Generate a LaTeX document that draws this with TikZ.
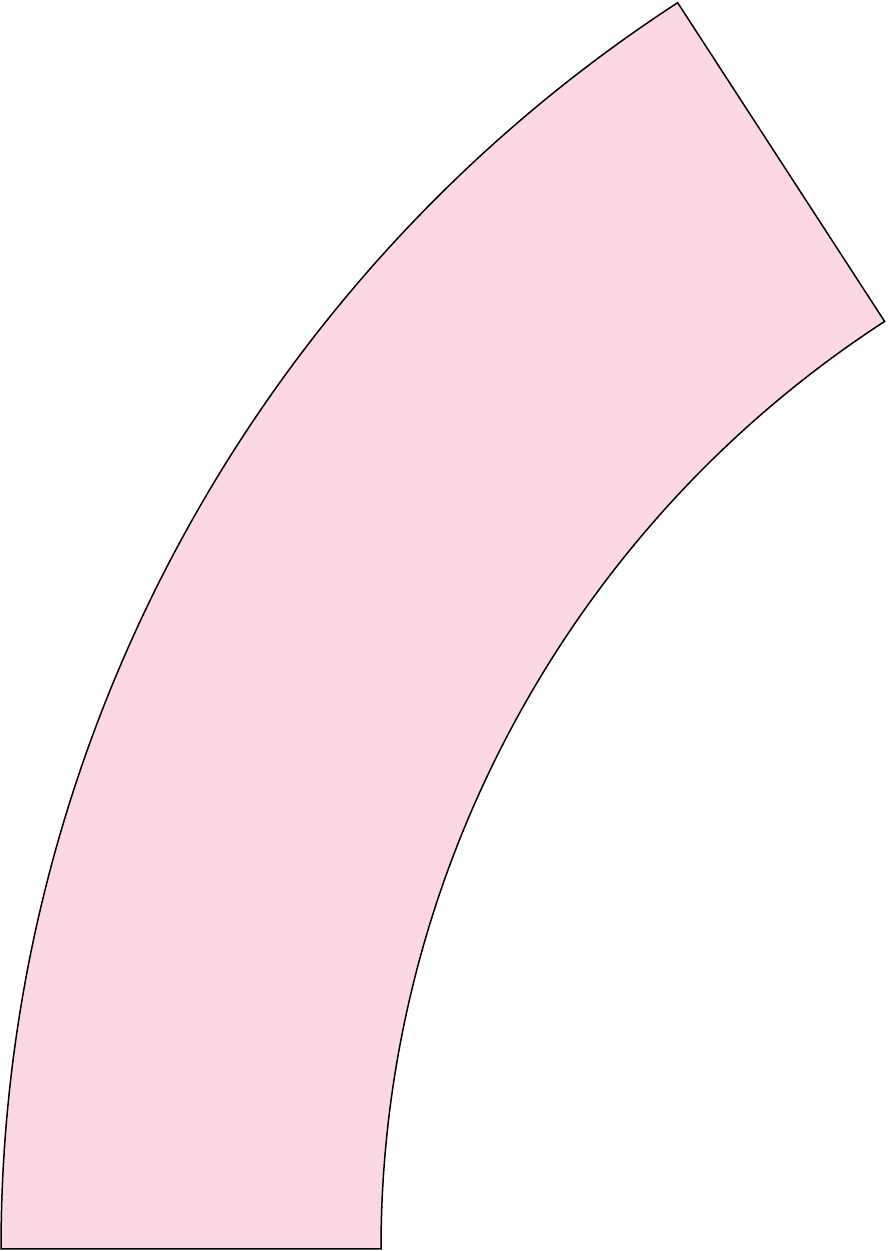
\documentclass[tikz,border=0pt]{standalone}
\usetikzlibrary{calc}
\definecolor{sectorpink}{RGB}{254,215,229}
\tikzset{sector/.style={draw=black,fill=sectorpink,line width=1.5pt,line join=miter}}
\begin{document}
\begin{tikzpicture}[x=1pt,y=1pt]
\useasboundingbox (0,0) rectangle (888,1251);
\coordinate (c) at (1487,2);
\draw[sector] ($(c)+(180:1486)$) arc[start angle=180,end angle=123,radius=1486]
  -- ($(c)+(123:1106)$) arc[start angle=123,end angle=180,radius=1106] -- cycle;
\end{tikzpicture}
\end{document}
